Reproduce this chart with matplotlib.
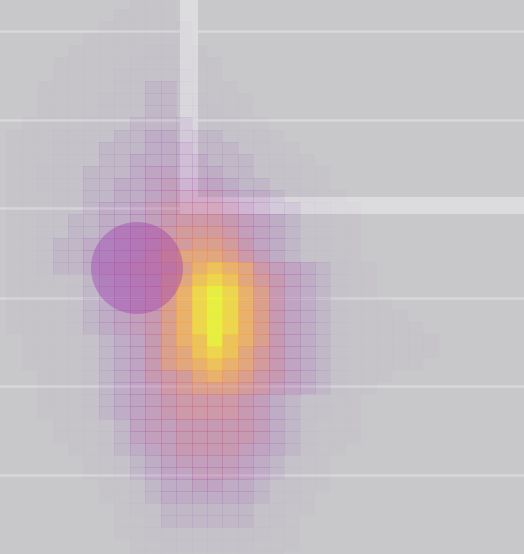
import numpy as np
import matplotlib
matplotlib.use("Agg")
import matplotlib.pyplot as plt
from matplotlib.colors import ListedColormap
from matplotlib.patches import Rectangle, Circle

# density grid, one hex digit per cell (0 = empty, f = peak)
density_rows = [
    "00000000011100000000000000000000000",
    "00000000111100000000000000000000000",
    "00000001111110000000000000000000000",
    "00000011111110000000000000000000000",
    "00000111112211000000000000000000000",
    "00001111122211100000000000000000000",
    "00001111222221100000000000000000000",
    "00011111223321110000000000000000000",
    "00011112223322111000000000000000000",
    "00011112223322211000000000000000000",
    "00111122233332221100000000000000000",
    "01112222334433322210000000000000000",
    "01112223334443332211000000000000000",
    "01112223344444333221100000000000000",
    "01122233345544433222110000000000000",
    "01122233445655543322110000000000000",
    "01112233445666654432211000000000000",
    "01112234456777765433221100000000000",
    "01122334456788876543221100000000000",
    "01122334567899986543221100000000000",
    "0112334456799aa97543221100000000000",
    "01123344568abbba8643221100000000000",
    "011233456789acdcb865432110000000000",
    "01111234567abdedb975432110000000000",
    "01111234567acefeca75432110000000000",
    "01111234567acefeca75432111000000000",
    "01111234567acefeca75432111100000000",
    "01111234567acefeca75432111110000000",
    "00111123457acdfdca75432111111000000",
    "00111123457abdedb975432111111000000",
    "00111123457abcdcb975432111110000000",
    "0001112345789bcba875432111000000000",
    "0001112345689aaa9865432110000000000",
    "00011123456788887643221100000000000",
    "00011123456788887643221100000000000",
    "00001112356677777643211100000000000",
    "00001112356677777643211100000000000",
    "00000112345677776543211000000000000",
    "00000011234566665432110000000000000",
    "00000011234556665432110000000000000",
    "00000001123445544322110000000000000",
    "00000001123444444322100000000000000",
    "00000000122333333221100000000000000",
    "00000000112333333221000000000000000",
    "00000000112222222211000000000000000",
    "00000000011222222111000000000000000",
    "00000000011111111110000000000000000",
]
density = np.array([[int(ch, 16) / 15 for ch in row] for row in density_rows])

# background plan features (pixel coordinates)
wall_y = [31, 119.5, 208, 297.5, 386, 474.5]
marker_xy = (137, 268)
marker_r = 46

W, H = 524, 554
cell_w, cell_h = 15.44, 12.04
x0, y0 = -9.2, -2.9

fig = plt.figure(figsize=(W / 100, H / 100), dpi=100)
fig.patch.set_facecolor('#c8c7ca')
ax = fig.add_axes([0, 0, 1, 1])
ax.set_xlim(0, W)
ax.set_ylim(H, 0)
ax.set_axis_off()

for y in wall_y:
    ax.axhline(y, color='#d8d7da', lw=1.8, zorder=1)
ax.add_patch(Rectangle((180, 0), 17.5, 214, color='#dcdbde', lw=0, zorder=1))
ax.add_patch(Rectangle((180, 197), W - 180, 17, color='#dcdbde', lw=0, zorder=1))

# plasma with alpha rising with the value, faint tail near zero
ramp = np.linspace(0, 1, 256)
base = plt.get_cmap('plasma')(ramp)
base[:, 3] = np.maximum(0.8 * np.clip((ramp - 0.12) / 0.88, 0, 1), 0.15 * ramp)
cmap = ListedColormap(base)

nr, nc = density.shape
xe = x0 + cell_w * np.arange(nc + 1)
ye = y0 + cell_h * np.arange(nr + 1)
ax.pcolormesh(xe, ye, density, cmap=cmap, vmin=0, vmax=1,
              edgecolors='none', antialiased=False, zorder=2)

# faint cell outlines on top
edge_rgba = cmap(density.ravel())
edge_rgba[:, 3] *= 0.45
outlines = ax.pcolormesh(xe, ye, density, zorder=2.5)
outlines.set_array(None)
outlines.set_facecolor('none')
outlines.set_edgecolor(edge_rgba)
outlines.set_linewidth(0.4)

ax.add_patch(Circle(marker_xy, marker_r, color='#a040b0', alpha=0.42, lw=0, zorder=3))

fig.savefig('out.png', dpi=100)
